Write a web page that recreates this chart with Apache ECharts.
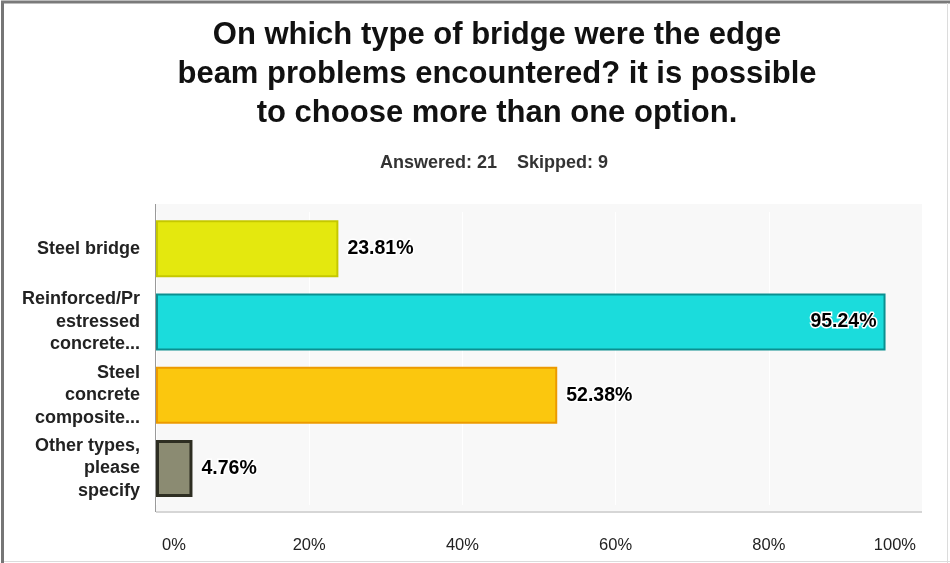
<!DOCTYPE html>
<html>
<head>
<meta charset="utf-8">
<script src="https://cdn.jsdelivr.net/npm/echarts@6/dist/echarts.min.js"></script>
<style>
  html, body { margin: 0; padding: 0; background: #fff; }
  #chart { width: 950px; height: 563px; }
</style>
</head>
<body>
<div id="chart"></div>
<script>
// Survey question results: share of respondents per bridge type
const categories = [
  'Steel bridge',
  'Reinforced/Pr\nestressed\nconcrete...',
  'Steel\nconcrete\ncomposite...',
  'Other types,\nplease\nspecify'
];
const percentages = [23.81, 95.24, 52.38, 4.76];
const axisTicks = [0, 20, 40, 60, 80, 100];
const titleText = 'On which type of bridge were the edge\nbeam problems encountered? it is possible\nto choose more than one option.';
const summaryText = 'Answered: 21    Skipped: 9';

const barFills = ['#e4e80e', '#1bdcdc', '#fbc70e', '#8b8b72'];
const barEdges = ['#c5c800', '#0b8f90', '#ec9a00', '#2e2e22'];

const FONT = '"Liberation Sans", Arial, Helvetica, sans-serif';

const chart = echarts.init(document.getElementById('chart'), null, { renderer: 'canvas' });

const barData = percentages.map((v, i) => ({
  value: v,
  itemStyle: {
    color: barFills[i],
    borderColor: barEdges[i],
    borderWidth: i === 3 ? 3 : 2
  },
  label: v > 80 ? { position: 'insideRight', distance: 9 } : { position: 'right', distance: 9 }
}));

chart.setOption({
  backgroundColor: '#ffffff',
  animation: false,
  title: [
    {
      text: titleText,
      left: 492,
      top: 11,
      textAlign: 'center',
      textStyle: {
        fontFamily: FONT,
        fontWeight: 'bold',
        fontSize: 31,
        lineHeight: 39,
        color: '#111'
      }
    },
    {
      text: summaryText,
      left: 489,
      top: 149,
      textAlign: 'center',
      textStyle: {
        fontFamily: FONT,
        fontWeight: 'bold',
        fontSize: 18,
        color: '#333'
      }
    }
  ],
  graphic: [
    // frame around the whole card
    { type: 'line', shape: { x1: 2.5, y1: 1, x2: 2.5, y2: 563 }, style: { stroke: '#767676', lineWidth: 3 }, z: 100 },
    { type: 'line', shape: { x1: 1, y1: 2, x2: 950, y2: 2 }, style: { stroke: '#7a7a7a', lineWidth: 3 }, z: 100 },
    { type: 'line', shape: { x1: 947.5, y1: 3, x2: 947.5, y2: 563 }, style: { stroke: '#dcdcdc', lineWidth: 1 }, z: 100 },
    { type: 'line', shape: { x1: 4, y1: 561.5, x2: 950, y2: 561.5 }, style: { stroke: '#dcdcdc', lineWidth: 1 }, z: 100 },
    // plot panel
    { type: 'rect', shape: { x: 156, y: 204, width: 766, height: 308 }, style: { fill: '#f8f8f8' }, z: -10 },
    { type: 'line', shape: { x1: 155.5, y1: 204, x2: 155.5, y2: 512 }, style: { stroke: '#9a9a9a', lineWidth: 1 }, z: 50 },
    { type: 'line', shape: { x1: 156, y1: 512, x2: 922, y2: 512 }, style: { stroke: '#d6d6d6', lineWidth: 2 }, z: 50 }
  ],
  grid: {
    left: 156,
    right: 28,
    top: 212,
    height: 293,
    containLabel: false
  },
  xAxis: {
    type: 'value',
    min: axisTicks[0],
    max: axisTicks[axisTicks.length - 1],
    interval: axisTicks[1] - axisTicks[0],
    axisLine: { show: false },
    axisTick: { show: false },
    splitLine: { show: true, lineStyle: { color: '#ffffff', width: 1 } },
    axisLabel: {
      formatter: '{value}%',
      margin: 32,
      fontFamily: FONT,
      fontSize: 16.5,
      color: '#222',
      alignMinLabel: 'left',
      alignMaxLabel: 'right',
      padding: [0, 6, 0, 6]
    }
  },
  yAxis: {
    type: 'category',
    inverse: true,
    data: categories,
    axisLine: { show: false },
    axisTick: { show: false },
    splitLine: { show: false },
    axisLabel: {
      margin: 16,
      fontFamily: FONT,
      fontWeight: 'bold',
      fontSize: 18,
      lineHeight: 22.5,
      color: '#222',
      align: 'right'
    }
  },
  series: [{
    type: 'bar',
    data: barData,
    barWidth: 57,
    label: {
      show: true,
      formatter: p => p.value.toFixed(2) + '%',
      fontFamily: FONT,
      fontWeight: 'bold',
      fontSize: 19.5,
      color: '#000',
      textBorderColor: '#ffffff',
      textBorderWidth: 3
    }
  }]
});
</script>
</body>
</html>
